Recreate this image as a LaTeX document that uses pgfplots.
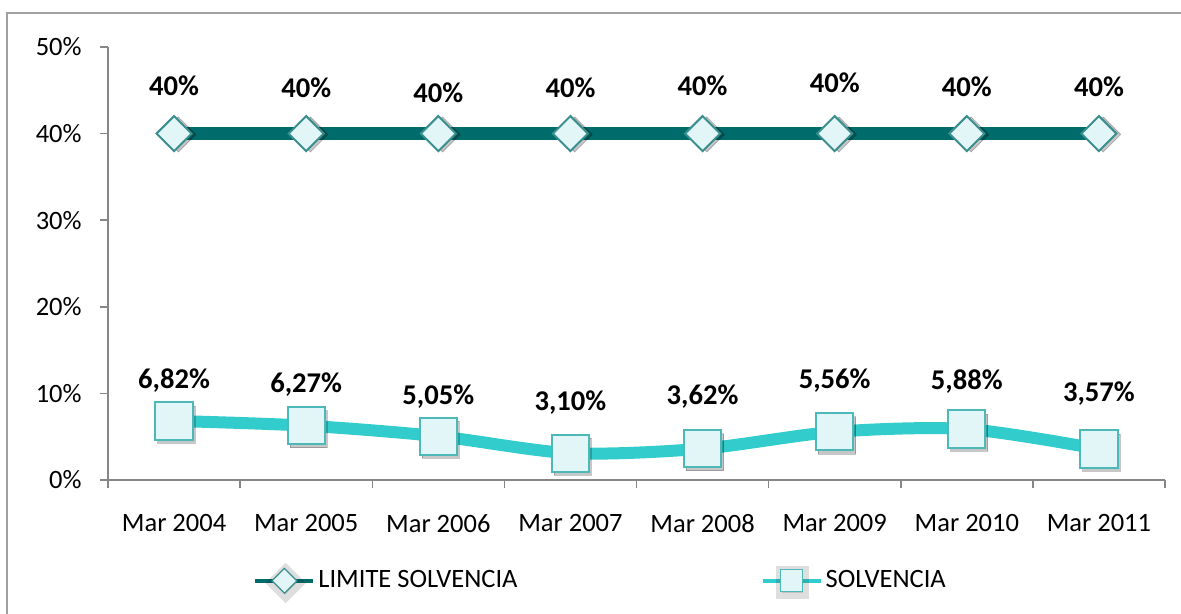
\documentclass[border=0pt]{standalone}
\usepackage{pgfplots}
\usepackage{pgfplotstable}
\pgfplotsset{compat=1.18}
\usepackage{fontspec}
\setmainfont{Carlito}
\definecolor{limc}{HTML}{006B6B}
\definecolor{solc}{HTML}{33CCCC}
\definecolor{axc}{HTML}{868686}
\definecolor{mfill}{HTML}{E2F5F7}
\definecolor{dedge}{HTML}{3A8E8E}
\definecolor{sedge}{HTML}{4DB8B8}
\definecolor{framec}{HTML}{A0A0A0}

\pgfplotstableread{
x y off
1 40 24
2 40 23
3 40 20.5
4 40 23
5 40 24
6 40 25.5
7 40 23.5
8 40 23.5
}\limite

\pgfplotstableread{
x y off
1 6.82 20
2 6.27 20.5
3 5.05 20
4 3.10 25.5
5 3.62 26
6 5.56 25.5
7 5.88 24
8 3.57 28
}\solvencia

\begin{document}
\begin{tikzpicture}
\useasboundingbox (0,0) rectangle (590.5pt,307pt);
\begin{scope}
\clip (0,0) rectangle (590.5pt,307pt);
\draw[framec, line width=0.8pt] (3.5pt,-5pt) -- (3.5pt,300.5pt) -- (600pt,300.5pt);
\end{scope}
\begin{axis}[
  at={(54pt,67pt)}, anchor=south west,
  scale only axis, width=528.5pt, height=216.5pt,
  xmin=0.5, xmax=8.5, ymin=0, ymax=50,
  clip=false,
  axis x line*=bottom, axis y line*=left,
  axis line style={axc, line width=0.75pt},
  tick style={axc, line width=0.75pt},
  tick align=outside, major tick length=4pt,
  xtick={0.5,1.5,2.5,3.5,4.5,5.5,6.5,7.5,8.5},
  xticklabels={Mar 2004,Mar 2005,Mar 2006,Mar 2007,Mar 2008,Mar 2009,Mar 2010,Mar 2011,{}},
  xticklabel style={xshift=33.03pt, anchor=north, inner sep=0pt, yshift=-13pt, font=\fontsize{13.25}{16}\selectfont},
  ytick={0,10,...,50},
  yticklabel={\pgfmathprintnumber{\tick}\%},
  yticklabel style={anchor=east, inner sep=0pt, xshift=-9pt, font=\fontsize{13.25}{16}\selectfont},
  /pgf/number format/assume math mode=true,
  legend columns=2,
  legend style={at={(0.1372,-0.2379)}, anchor=west, draw=none, fill=none,
    inner sep=0pt, font=\fontsize{13.25}{16}\selectfont,
    nodes={inner sep=1.5pt},
    /tikz/every even column/.append style={column sep=120pt}},
  legend cell align=left,
  nodes near coords style={font=\bfseries\fontsize{14.3}{17}\selectfont, text=black, anchor=center, inner sep=0pt},
]
% LIMITE SOLVENCIA: line
\addplot[limc, line width=6.5pt, no markers,
  legend image code/.code={
    \draw[limc, line width=2pt] (0pt,0pt) -- (29pt,0pt);
    \fill[black, opacity=0.13] (15.1pt,-6.6pt) -- (20.6pt,-1.1pt) -- (15.1pt,4.4pt) -- (9.6pt,-1.1pt) -- cycle;
    \draw[mark=square*, mark size=4.4pt, mark options={rotate=45, fill=mfill, draw=dedge, line width=0.6pt}] plot coordinates {(14.5pt,0pt)};
  }]
  table[x=x, y=y] {\limite};
\addlegendentry{LIMITE SOLVENCIA}
% shadow of marks
\addplot[forget plot, only marks, mark=square*, mark size=6.2pt,
  mark options={rotate=45, fill=black, draw=none, opacity=0.22, xshift=1.2pt, yshift=-1.8pt}]
  table[x=x, y=y] {\limite};
% marks and labels
\addplot[forget plot, only marks, mark=square*, mark size=6.2pt,
  mark options={rotate=45, fill=mfill, draw=dedge, line width=1pt, solid},
  visualization depends on={\thisrow{off} \as \labeloff},
  nodes near coords={\pgfmathprintnumber[fixed,precision=0]{\pgfplotspointmeta}\%},
  every node near coord/.append style={yshift=\labeloff*1pt}]
  table[x=x, y=y] {\limite};
% SOLVENCIA: line
\addplot[solc, line width=6pt, smooth, no markers,
  legend image code/.code={
    \draw[solc, line width=2pt] (0pt,0pt) -- (29pt,0pt);
    \fill[black, opacity=0.13] (9.6pt,-6.3pt) rectangle (20.2pt,4.3pt);
    \draw[mark=square*, mark size=5.5pt, mark options={fill=mfill, draw=sedge, line width=0.6pt}] plot coordinates {(14.5pt,0pt)};
  }]
  table[x=x, y=y] {\solvencia};
\addlegendentry{SOLVENCIA}
\addplot[forget plot, only marks, mark=square*, mark size=9.3pt,
  mark options={fill=black, draw=none, opacity=0.22, xshift=1.2pt, yshift=-1.8pt}]
  table[x=x, y=y] {\solvencia};
\addplot[forget plot, only marks, mark=square*, mark size=9.3pt,
  mark options={fill=mfill, draw=sedge, line width=1pt, solid},
  visualization depends on={\thisrow{off} \as \labeloff},
  nodes near coords={\pgfmathprintnumber[fixed,fixed zerofill,precision=2,use comma]{\pgfplotspointmeta}\%},
  every node near coord/.append style={yshift=\labeloff*1pt}]
  table[x=x, y=y] {\solvencia};
\end{axis}
\end{tikzpicture}
\end{document}
